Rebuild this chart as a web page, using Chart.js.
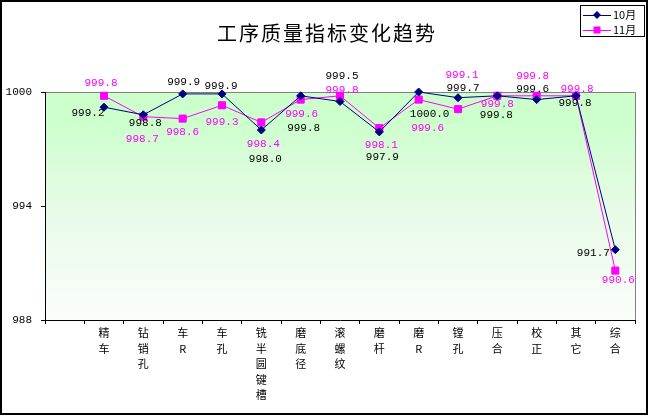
<!DOCTYPE html>
<html>
<head>
<meta charset="utf-8">
<script src="https://cdn.jsdelivr.net/npm/chart.js@4"></script>
<style>
  body { margin: 0; background: #fff; }
  #wrap { width: 649px; height: 416px; }
</style>
</head>
<body>
<div id="wrap"><canvas id="myChart"></canvas></div>
<script>
// categories (first slot is empty in the original sheet)
var categories = [
  [''], ['精','车'], ['钻','销','孔'], ['车','R'], ['车','孔'],
  ['铣','半','圆','键','槽'], ['磨','底','径'], ['滚','螺','纹'], ['磨','杆'],
  ['磨','R'], ['镗','孔'], ['压','合'], ['校','正'], ['其','它'], ['综','合']
];
var oct = [null, 999.2, 998.8, 999.9, 999.9, 998.0, 999.8, 999.5, 997.9, 1000.0, 999.7, 999.8, 999.6, 999.8, 991.7];
var nov = [null, 999.8, 998.7, 998.6, 999.3, 998.4, 999.6, 999.8, 998.1, 999.6, 999.1, 999.8, 999.8, 999.8, 990.6];
var seriesNames = ['10月', '11月'];
var yTicks = [988, 994, 1000];

// where excel put each data label, relative to its point
var octLabelPos = [null, [-16,6], [2,8], [1,-12], [-1,-8], [4,29], [3,32], [2,-25], [3,25], [11,22], [5,-10], [-1,19], [-4,-11], [-1,7], [-22,3]];
var novLabelPos = [null, [-3,-13], [-1,22], [0,13], [0,17], [2,22], [1,14], [2,-6], [2,17], [9,28], [4,-34], [0,8], [-4,-20], [1,-7], [3,9]];

var numFont = '11px "Liberation Mono", "DejaVu Sans Mono", monospace';
var cjkFont = '"Noto Sans CJK SC", sans-serif';

var options = {
  type: 'line',
  data: {
    labels: categories,
    datasets: [
      {
        label: seriesNames[0],
        data: oct,
        borderColor: '#000080',
        backgroundColor: '#000080',
        borderWidth: 1,
        pointStyle: 'rectRot',
        pointRadius: 4,
        pointHoverRadius: 4,
        clip: false,
        labelColor: '#000000',
        labelPos: octLabelPos
      },
      {
        label: seriesNames[1],
        data: nov,
        borderColor: '#ff00ff',
        backgroundColor: '#ff00ff',
        borderWidth: 1,
        pointStyle: 'rect',
        pointRadius: 5,
        pointHoverRadius: 5,
        clip: false,
        labelColor: '#ff00ff',
        labelPos: novLabelPos
      }
    ]
  },
  options: {
    responsive: true,
    maintainAspectRatio: false,
    animation: false,
    events: [],
    layout: { padding: { top: 92, right: 14, left: 0, bottom: 0 } },
    scales: {
      x: {
        offset: true,
        grid: {
          offset: true,
          drawOnChartArea: false,
          color: '#000',
          tickLength: 4
        },
        border: { color: '#000', width: 1 },
        ticks: {
          color: '#000',
          maxRotation: 0,
          autoSkip: false,
          padding: 1,
          font: { family: cjkFont, size: 11, lineHeight: 1.42 }
        },
        afterFit: function (s) { s.height = 96; }
      },
      y: {
        min: 988,
        max: 1000,
        afterBuildTicks: function (s) { s.ticks = yTicks.map(function (v) { return { value: v }; }); },
        grid: {
          drawOnChartArea: false,
          color: '#000',
          tickLength: 4
        },
        border: { color: '#000', width: 1 },
        ticks: {
          color: '#000',
          padding: 9,
          font: { family: '"Liberation Mono", monospace', size: 11 },
          callback: function (v) { return String(v); }
        },
        afterFit: function (s) { s.width = 45; }
      }
    },
    plugins: {
      legend: { display: false },
      title: { display: false },
      tooltip: { enabled: false }
    }
  },
  plugins: [
    {
      id: 'frame',
      beforeDraw: function (chart) {
        var ctx = chart.ctx, a = chart.chartArea;
        ctx.save();
        ctx.fillStyle = '#fff';
        ctx.fillRect(0, 0, chart.width, chart.height);
        var g = ctx.createLinearGradient(0, a.top, 0, a.bottom);
        g.addColorStop(0, '#ccffcc');
        g.addColorStop(0.12, '#ccffcc');
        g.addColorStop(0.5, '#e6fbe6');
        g.addColorStop(1, '#fbfdfb');
        ctx.fillStyle = g;
        ctx.fillRect(a.left, a.top, a.right - a.left, a.bottom - a.top);
        ctx.strokeStyle = '#808080';
        ctx.lineWidth = 1;
        ctx.beginPath();
        ctx.moveTo(a.left, a.top + 0.5);
        ctx.lineTo(a.right + 0.5, a.top + 0.5);
        ctx.lineTo(a.right + 0.5, a.bottom);
        ctx.stroke();
        ctx.strokeStyle = '#000';
        ctx.lineWidth = 2;
        ctx.strokeRect(1, 1, 646, 413);
        // title
        ctx.fillStyle = '#000';
        ctx.font = '20px ' + cjkFont;
        ctx.letterSpacing = '2px';
        ctx.textAlign = 'center';
        ctx.textBaseline = 'middle';
        ctx.fillText('工序质量指标变化趋势', 327, 33);
        ctx.restore();
      },
      afterDraw: function (chart) {
        var ctx = chart.ctx;
        ctx.save();
        // data labels
        ctx.font = numFont;
        ctx.textAlign = 'center';
        ctx.textBaseline = 'middle';
        chart.data.datasets.forEach(function (ds, i) {
          var meta = chart.getDatasetMeta(i);
          ds.data.forEach(function (v, j) {
            if (v === null) return;
            var p = meta.data[j], off = ds.labelPos[j];
            ctx.fillStyle = ds.labelColor;
            ctx.fillText(v.toFixed(1), p.x + off[0], p.y + off[1]);
          });
        });
        // legend box
        ctx.fillStyle = '#fff';
        ctx.fillRect(580, 5, 65, 32);
        ctx.strokeStyle = '#000';
        ctx.lineWidth = 1;
        ctx.strokeRect(580.5, 5.5, 64, 31);
        chart.data.datasets.forEach(function (ds, i) {
          var y = 15 + i * 15;
          ctx.strokeStyle = ds.borderColor;
          ctx.beginPath();
          ctx.moveTo(583, y + 0.5);
          ctx.lineTo(611, y + 0.5);
          ctx.stroke();
          ctx.fillStyle = ds.backgroundColor;
          ctx.beginPath();
          if (ds.pointStyle === 'rectRot') {
            ctx.moveTo(597, y - 4); ctx.lineTo(601, y); ctx.lineTo(597, y + 4); ctx.lineTo(593, y);
          } else {
            ctx.rect(593.5, y - 3.5, 7, 7);
          }
          ctx.fill();
          ctx.fillStyle = '#000';
          ctx.textAlign = 'left';
          ctx.font = '11px ' + cjkFont;
          ctx.fillText(ds.label, 613, y);
        });
        ctx.restore();
      }
    }
  ]
};

var ctx = document.getElementById('myChart').getContext('2d');
new Chart(ctx, options);
</script>
</body>
</html>
